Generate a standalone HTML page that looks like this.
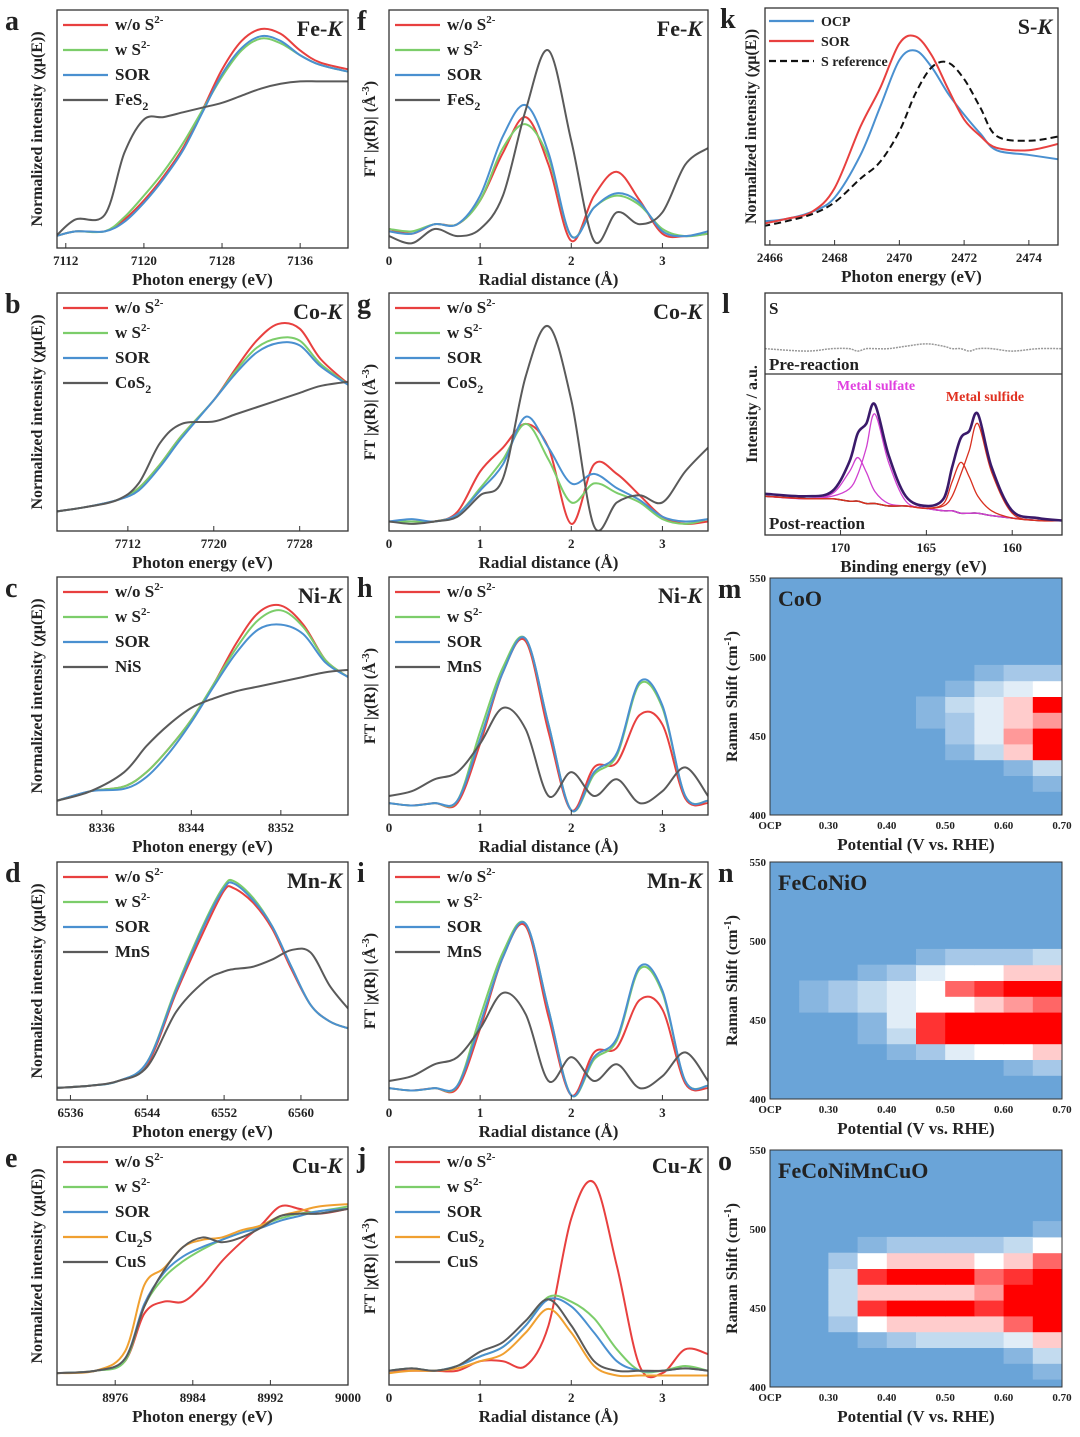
<!DOCTYPE html>
<html><head><meta charset="utf-8">
<style>
html,body{margin:0;padding:0;background:#fff;}
svg{display:block;}
text{font-family:"Liberation Serif",serif;font-weight:bold;}
</style></head>
<body>
<svg id="fig" width="1080" height="1437" viewBox="0 0 1080 1437" xmlns="http://www.w3.org/2000/svg"></svg>
<script>
// ===== Data =====
const aX=[7111,7113,7116,7118,7120,7122,7124,7126,7128,7130,7132,7134,7136,7138,7141];
const aRed=[0.05,0.07,0.07,0.12,0.2,0.3,0.42,0.58,0.75,0.87,0.92,0.9,0.83,0.78,0.75];
const aGreen=[0.05,0.07,0.07,0.13,0.22,0.32,0.44,0.58,0.72,0.83,0.88,0.86,0.81,0.77,0.74];
const aBlue=[0.05,0.07,0.07,0.11,0.19,0.29,0.41,0.57,0.73,0.84,0.89,0.87,0.81,0.77,0.74];
const aGray=[0.05,0.12,0.14,0.4,0.54,0.55,0.57,0.59,0.61,0.64,0.67,0.69,0.7,0.7,0.7];

const bX=[7705,7708,7711,7713,7715,7717,7720,7722,7724,7726,7728,7730,7733];
const bRed=[0.08,0.1,0.13,0.18,0.28,0.4,0.55,0.68,0.8,0.87,0.85,0.72,0.6];
const bGreen=[0.08,0.1,0.13,0.18,0.28,0.4,0.55,0.67,0.77,0.81,0.8,0.7,0.6];
const bBlue=[0.08,0.1,0.13,0.17,0.27,0.39,0.55,0.66,0.75,0.79,0.78,0.69,0.6];
const bGray=[0.08,0.1,0.13,0.2,0.37,0.45,0.46,0.49,0.52,0.55,0.58,0.61,0.63];

const cX=[8332,8335,8338,8340,8342,8344,8346,8348,8350,8352,8354,8356,8358];
const cRed=[0.06,0.1,0.12,0.18,0.28,0.4,0.55,0.72,0.85,0.88,0.8,0.65,0.58];
const cGreen=[0.06,0.1,0.12,0.18,0.28,0.4,0.55,0.7,0.82,0.86,0.79,0.65,0.58];
const cBlue=[0.06,0.1,0.11,0.16,0.26,0.39,0.54,0.68,0.78,0.8,0.76,0.64,0.58];
const cGray=[0.06,0.1,0.18,0.29,0.38,0.45,0.49,0.52,0.54,0.56,0.58,0.6,0.61];

const dX=[6534,6538,6541,6544,6547,6550,6552,6553,6555,6557,6559,6561,6563,6565];
const dRed=[0.05,0.06,0.08,0.15,0.45,0.72,0.88,0.89,0.83,0.72,0.55,0.4,0.33,0.3];
const dGreen=[0.05,0.06,0.08,0.16,0.47,0.75,0.9,0.92,0.85,0.73,0.56,0.4,0.33,0.3];
const dBlue=[0.05,0.06,0.08,0.16,0.46,0.74,0.89,0.91,0.84,0.73,0.56,0.4,0.33,0.3];
const dGray=[0.05,0.06,0.08,0.14,0.37,0.5,0.54,0.55,0.56,0.59,0.63,0.62,0.48,0.38];

const eX=[8970,8974,8977,8979,8981,8983,8985,8987,8989,8991,8993,8995,8997,9000];
const eRed=[0.05,0.06,0.1,0.3,0.35,0.35,0.42,0.52,0.6,0.67,0.75,0.74,0.72,0.74];
const eGreen=[0.05,0.06,0.1,0.33,0.45,0.52,0.57,0.61,0.64,0.67,0.7,0.72,0.73,0.75];
const eBlue=[0.05,0.06,0.11,0.34,0.47,0.54,0.58,0.61,0.64,0.66,0.69,0.71,0.73,0.74];
const eOrange=[0.05,0.06,0.14,0.42,0.49,0.58,0.61,0.62,0.65,0.67,0.71,0.73,0.75,0.76];
const eGray=[0.05,0.06,0.11,0.33,0.48,0.58,0.62,0.6,0.62,0.66,0.71,0.72,0.72,0.74];

const rX=[0,0.25,0.5,0.75,1,1.25,1.5,1.75,2,2.25,2.5,2.75,3,3.25,3.5];
const fRed=[0.08,0.06,0.1,0.1,0.2,0.4,0.55,0.35,0.03,0.22,0.32,0.2,0.06,0.05,0.06];
const fGreen=[0.08,0.07,0.1,0.1,0.2,0.42,0.52,0.38,0.05,0.17,0.22,0.18,0.08,0.05,0.06];
const fBlue=[0.07,0.06,0.1,0.1,0.22,0.47,0.6,0.4,0.05,0.17,0.23,0.19,0.07,0.05,0.07];
const fGray=[0.05,0.02,0.08,0.05,0.08,0.22,0.58,0.83,0.45,0.03,0.15,0.1,0.15,0.35,0.42];

const gRed=[0.04,0.04,0.04,0.08,0.25,0.35,0.45,0.35,0.03,0.28,0.24,0.15,0.06,0.03,0.04];
const gGreen=[0.04,0.04,0.04,0.07,0.18,0.3,0.45,0.3,0.12,0.2,0.16,0.12,0.05,0.03,0.05];
const gBlue=[0.04,0.05,0.04,0.07,0.17,0.28,0.48,0.35,0.2,0.24,0.18,0.13,0.06,0.04,0.05];
const gGray=[0.04,0.03,0.04,0.06,0.15,0.22,0.65,0.86,0.55,0.02,0.12,0.15,0.12,0.25,0.35];

const hRed=[0.05,0.04,0.05,0.05,0.3,0.6,0.73,0.35,0.02,0.2,0.22,0.42,0.38,0.07,0.05];
const hGreen=[0.05,0.04,0.05,0.06,0.35,0.62,0.74,0.38,0.02,0.17,0.25,0.55,0.45,0.08,0.06];
const hBlue=[0.05,0.04,0.05,0.06,0.32,0.6,0.74,0.38,0.02,0.18,0.26,0.56,0.46,0.08,0.06];
const hGray=[0.08,0.1,0.15,0.18,0.3,0.45,0.36,0.08,0.18,0.08,0.15,0.05,0.1,0.2,0.08];

const iRed=hRed, iGreen=hGreen, iBlue=hBlue, iGray=hGray;

const jRed=[0.06,0.06,0.06,0.06,0.1,0.1,0.08,0.25,0.7,0.85,0.5,0.08,0.05,0.15,0.13];
const jGreen=[0.06,0.07,0.06,0.08,0.12,0.16,0.25,0.37,0.35,0.28,0.15,0.06,0.06,0.08,0.06];
const jBlue=[0.06,0.07,0.06,0.08,0.12,0.16,0.25,0.36,0.33,0.22,0.1,0.06,0.06,0.07,0.06];
const jOrange=[0.05,0.06,0.06,0.07,0.1,0.13,0.22,0.32,0.22,0.08,0.04,0.04,0.04,0.04,0.04];
const jGray=[0.06,0.07,0.06,0.08,0.14,0.18,0.27,0.36,0.25,0.1,0.06,0.06,0.06,0.07,0.06];

const kX=[2465.8,2466.5,2467.3,2468,2468.8,2469.4,2470,2470.5,2471,2471.5,2472,2472.5,2473,2474,2475];
const kOCP=[0.1,0.11,0.14,0.2,0.38,0.58,0.78,0.82,0.75,0.64,0.55,0.47,0.4,0.38,0.36];
const kSOR=[0.09,0.11,0.14,0.24,0.5,0.66,0.85,0.88,0.8,0.66,0.53,0.46,0.41,0.4,0.43];
const kRef=[0.08,0.1,0.13,0.18,0.28,0.35,0.48,0.64,0.75,0.77,0.7,0.58,0.46,0.44,0.46];

const lX=[174.4,172,170.5,169.5,169,168.5,168,167.2,166.2,165,164,163.5,163,162.5,162,161.2,160,158.5,157.1];
const lEnv=[0.17,0.16,0.18,0.3,0.42,0.46,0.54,0.33,0.16,0.12,0.15,0.28,0.4,0.43,0.5,0.28,0.1,0.07,0.06];
const lSulfateA=[0.16,0.15,0.17,0.26,0.32,0.26,0.18,0.13,0.12,0.11,0.1,0.1,0.09,0.09,0.09,0.08,0.07,0.06,0.06];
const lSulfateB=[0.16,0.15,0.16,0.19,0.25,0.36,0.5,0.3,0.14,0.11,0.1,0.1,0.09,0.09,0.09,0.08,0.07,0.06,0.06];
const lSulfideA=[0.16,0.15,0.15,0.14,0.14,0.13,0.13,0.12,0.12,0.11,0.13,0.22,0.3,0.24,0.16,0.1,0.07,0.06,0.06];
const lSulfideB=[0.16,0.15,0.15,0.14,0.14,0.13,0.13,0.12,0.12,0.11,0.12,0.16,0.25,0.35,0.46,0.26,0.09,0.06,0.06];
const lBase=[0.16,0.15,0.15,0.14,0.14,0.13,0.13,0.12,0.12,0.11,0.1,0.1,0.09,0.09,0.09,0.08,0.07,0.06,0.06];
const lPre=[0.77,0.76,0.77,0.77,0.76,0.77,0.77,0.77,0.78,0.79,0.78,0.77,0.77,0.76,0.77,0.77,0.76,0.77,0.77];

const hmX=[0.25,0.3,0.35,0.4,0.45,0.5,0.55,0.6,0.65,0.7];
const hmY=[400,410,420,430,440,450,460,470,480,490,500,510,520,530,540,550];
const mData=[
[0,0,0,0,0,0,0,0,0,0],[0,0,0,0,0,0,0,0,0,0],[0,0,0,0,0,0,0,0,0,0.1],[0,0,0,0,0,0,0,0,0.1,0.3],
[0,0,0,0,0,0,0.1,0.3,0.6,1],[0,0,0,0,0,0,0.2,0.4,0.7,1],[0,0,0,0,0,0.1,0.2,0.4,0.6,0.7],
[0,0,0,0,0,0.1,0.3,0.4,0.6,1],[0,0,0,0,0,0,0.1,0.3,0.4,0.5],[0,0,0,0,0,0,0,0.1,0.2,0.2],
[0,0,0,0,0,0,0,0,0,0],[0,0,0,0,0,0,0,0,0,0],[0,0,0,0,0,0,0,0,0,0],[0,0,0,0,0,0,0,0,0,0],[0,0,0,0,0,0,0,0,0,0],[0,0,0,0,0,0,0,0,0,0]];
const nData=[
[0,0,0,0,0,0,0,0,0,0],[0,0,0,0,0,0,0,0,0,0],[0,0,0,0,0,0,0,0,0.1,0.2],[0,0,0,0,0.1,0.2,0.4,0.5,0.5,0.6],
[0,0,0,0.1,0.3,0.9,1,1,1,1],[0,0,0,0.1,0.4,0.9,1,1,1,1],[0,0.1,0.2,0.3,0.4,0.5,0.5,0.6,0.7,0.8],
[0,0.1,0.2,0.3,0.4,0.5,0.8,0.9,1,1],[0,0,0,0.1,0.2,0.4,0.5,0.5,0.6,0.6],[0,0,0,0,0,0.1,0.2,0.2,0.2,0.3],
[0,0,0,0,0,0,0,0,0,0],[0,0,0,0,0,0,0,0,0,0],[0,0,0,0,0,0,0,0,0,0],[0,0,0,0,0,0,0,0,0,0],[0,0,0,0,0,0,0,0,0,0],[0,0,0,0,0,0,0,0,0,0]];
const oData=[
[0,0,0,0,0,0,0,0,0,0],[0,0,0,0,0,0,0,0,0,0.1],[0,0,0,0,0,0,0,0,0.1,0.3],[0,0,0,0.1,0.2,0.3,0.3,0.3,0.4,0.6],
[0,0,0.2,0.5,0.6,0.6,0.6,0.6,0.8,1],[0,0,0.3,0.9,1,1,1,0.9,1,1],[0,0,0.3,0.6,0.6,0.6,0.6,0.7,1,1],
[0,0,0.3,0.9,1,1,1,0.8,0.9,1],[0,0,0.2,0.5,0.6,0.6,0.6,0.5,0.6,0.8],[0,0,0,0.1,0.2,0.2,0.2,0.2,0.3,0.5],
[0,0,0,0,0,0,0,0,0,0.1],[0,0,0,0,0,0,0,0,0,0],[0,0,0,0,0,0,0,0,0,0],[0,0,0,0,0,0,0,0,0,0],[0,0,0,0,0,0,0,0,0,0],[0,0,0,0,0,0,0,0,0,0]];

// ===== Drawing =====
const NS="http://www.w3.org/2000/svg";
const svg=document.getElementById('fig');
function mk(tag,attrs,parent){const e=document.createElementNS(NS,tag);for(const k in attrs)e.setAttribute(k,attrs[k]);(parent||svg).appendChild(e);return e;}
function txt(s,x,y,size,parent,opts){opts=opts||{};const t=mk('text',{x:x,y:y,'font-size':size,fill:opts.fill||'#222','text-anchor':opts.anchor||'start'},parent);if(opts.rot)t.setAttribute('transform','rotate(-90 '+x+' '+y+')');t.innerHTML=s;return t;}
const RED='#e8403f',GREEN='#7ccd6a',BLUE='#4a90d0',GRAY='#5a5a5a',ORANGE='#f0a030';
function smooth(pts){let d='M'+pts[0][0]+','+pts[0][1];for(let i=0;i<pts.length-1;i++){const p0=pts[i-1]||pts[i],p1=pts[i],p2=pts[i+1],p3=pts[i+2]||p2;
d+=' C'+(p1[0]+(p2[0]-p0[0])/6)+','+(p1[1]+(p2[1]-p0[1])/6)+' '+(p2[0]-(p3[0]-p1[0])/6)+','+(p2[1]-(p3[1]-p1[1])/6)+' '+p2[0]+','+p2[1];}return d;}

function panel(c){
  const g=mk('g',{});
  
  
  const sx=v=>c.x0+(v-c.xmin)/(c.xmax-c.xmin)*c.w;
  const sy=v=>c.y0+c.h-v*c.h;
  const clipId='clip-'+c.name;
  const cp=mk('clipPath',{id:clipId},g);mk('rect',{x:c.x0,y:c.y0,width:c.w,height:c.h},cp);
  const lg=mk('g',{'clip-path':'url(#'+clipId+')'},g);
  c.series.forEach(s=>{
    const p=mk('path',{d:smooth(s.xs.map((v,i)=>[sx(v),sy(s.ys[i])])),fill:'none',stroke:s.color,'stroke-width':s.sw||2,'stroke-dasharray':s.dash||'none'},lg);
    
    
  });
  const fr=mk('rect',{x:c.x0,y:c.y0,width:c.w,height:c.h,fill:'none',stroke:'#333','stroke-width':1.3},g);
  
  
  c.xticks.forEach(t=>{const x=sx(t);mk('line',{x1:x,y1:c.y0+c.h,x2:x,y2:c.y0+c.h-5,stroke:'#333'},g);
    const tl=txt(t,x,c.y0+c.h+17,13,g,{anchor:'middle'});
    });
  const xl=txt(c.xlabel,c.x0+c.w/2,c.y0+c.h+37,17,g,{anchor:'middle'});
  
  const yl=txt(c.ylabel,c.ylx,c.y0+c.h/2,16,g,{anchor:'middle',rot:1});
  
  const lt=txt(c.letter,c.lx,c.y0+20,28,g);
  
  if(c.title){const tt=txt(c.title,c.x0+c.w-6,c.y0+26,22,g,{anchor:'end'});}
  if(c.legend){c.series.forEach((s,i)=>{const y=c.y0+(c.legStep?18:20)+i*(c.legStep||25);const lx=c.x0+(c.legX||6);
    const le=mk('g',{},g);
    mk('line',{x1:lx,y1:y-5,x2:lx+45,y2:y-5,stroke:s.color,'stroke-width':2.2,'stroke-dasharray':s.dash||'none'},le);
    txt(s.label,lx+52,y,c.legSize||17,le);});}
  return {g,sx,sy};
}
const c1={x0:57,w:291,h:238,ylx:42,lx:5,ylabel:'Normalized intensity (χμ(E))',xlabel:'Photon energy (eV)'};
const c2={x0:389,w:319,h:238,ylx:375,lx:357,ylabel:'FT |χ(R)| (Å<tspan font-size="11" dy="-6">-3</tspan><tspan dy="6">)</tspan>',xlabel:'Radial distance (Å)',xmin:0,xmax:3.5,xticks:[0,1,2,3]};
const S2='S<tspan font-size="11" dy="-7">2-</tspan>';
function sub(s){return '<tspan font-size="12" dy="5">'+s+'</tspan>';}
function four(xs,r,g,b,k,kl,extra){const a=[{xs,ys:r,color:RED,label:'w/o '+S2},{xs,ys:g,color:GREEN,label:'w '+S2},{xs,ys:b,color:BLUE,label:'SOR'}];
 if(extra)a.push(extra);a.push({xs,ys:k,color:GRAY,label:kl});return a;}

const rows=[10,293,577,862,1147];
panel(Object.assign({},c1,{name:'panel-a',y0:rows[0],xmin:7111.1,xmax:7140.9,xticks:[7112,7120,7128,7136],letter:'a',title:'Fe-<tspan font-style="italic">K</tspan>',legend:1,series:four(aX,aRed,aGreen,aBlue,aGray,'FeS'+sub('2'))}));
panel(Object.assign({},c1,{name:'panel-b',y0:rows[1],xmin:7705.4,xmax:7732.5,xticks:[7712,7720,7728],letter:'b',title:'Co-<tspan font-style="italic">K</tspan>',legend:1,series:four(bX,bRed,bGreen,bBlue,bGray,'CoS'+sub('2'))}));
panel(Object.assign({},c1,{name:'panel-c',y0:rows[2],xmin:8332,xmax:8358,xticks:[8336,8344,8352],letter:'c',title:'Ni-<tspan font-style="italic">K</tspan>',legend:1,series:four(cX,cRed,cGreen,cBlue,cGray,'NiS')}));
panel(Object.assign({},c1,{name:'panel-d',y0:rows[3],xmin:6534.6,xmax:6564.9,xticks:[6536,6544,6552,6560],letter:'d',title:'Mn-<tspan font-style="italic">K</tspan>',legend:1,series:four(dX,dRed,dGreen,dBlue,dGray,'MnS')}));
panel(Object.assign({},c1,{name:'panel-e',y0:rows[4],xmin:8970,xmax:9000,xticks:[8976,8984,8992,9000],letter:'e',title:'Cu-<tspan font-style="italic">K</tspan>',legend:1,series:four(eX,eRed,eGreen,eBlue,eGray,'CuS',{xs:eX,ys:eOrange,color:ORANGE,label:'Cu'+sub('2')+'<tspan dy="-5">S</tspan>'})}));

panel(Object.assign({},c2,{name:'panel-f',y0:rows[0],letter:'f',title:'Fe-<tspan font-style="italic">K</tspan>',legend:1,series:four(rX,fRed,fGreen,fBlue,fGray,'FeS'+sub('2'))}));
panel(Object.assign({},c2,{name:'panel-g',y0:rows[1],letter:'g',title:'Co-<tspan font-style="italic">K</tspan>',legend:1,series:four(rX,gRed,gGreen,gBlue,gGray,'CoS'+sub('2'))}));
panel(Object.assign({},c2,{name:'panel-h',y0:rows[2],letter:'h',title:'Ni-<tspan font-style="italic">K</tspan>',legend:1,series:four(rX,hRed,hGreen,hBlue,hGray,'MnS')}));
panel(Object.assign({},c2,{name:'panel-i',y0:rows[3],letter:'i',title:'Mn-<tspan font-style="italic">K</tspan>',legend:1,series:four(rX,iRed,iGreen,iBlue,iGray,'MnS')}));
panel(Object.assign({},c2,{name:'panel-j',y0:rows[4],letter:'j',title:'Cu-<tspan font-style="italic">K</tspan>',legend:1,series:four(rX,jRed,jGreen,jBlue,jGray,'CuS',{xs:rX,ys:jOrange,color:ORANGE,label:'CuS'+sub('2')})}));

panel({name:'panel-k',x0:765,y0:8,w:293,h:237,ylx:756,lx:720,xmin:2465.85,xmax:2474.9,xticks:[2466,2468,2470,2472,2474],letter:'k',title:'S-<tspan font-style="italic">K</tspan>',
 ylabel:'Normalized intensity (χμ(E))',xlabel:'Photon energy (eV)',legend:1,legStep:20,legSize:14,legX:4,
 series:[{xs:kX,ys:kOCP,color:BLUE,label:'OCP'},{xs:kX,ys:kSOR,color:RED,label:'SOR'},{xs:kX,ys:kRef,color:'#111',dash:'7,4',label:'S reference'}]});

// panel l
(function(){
 const P=panel({name:'panel-l',x0:765,y0:293,w:297,h:242,ylx:757,lx:722,xmin:174.4,xmax:157.1,xticks:[170,165,160],letter:'l',
  ylabel:'Intensity / a.u.',xlabel:'Binding energy (eV)',
  series:[{xs:lX,ys:lPre,color:'#999',sw:1.5,dash:'2,1',label:'pre'},{xs:lX,ys:lBase,color:'#111',sw:1.5,label:'baseline'},
  {xs:lX,ys:lSulfateA,color:'#d040d0',sw:1.3,label:'sulfate-a'},{xs:lX,ys:lSulfateB,color:'#d040d0',sw:1.3,label:'sulfate-b'},
  {xs:lX,ys:lSulfideA,color:'#d83020',sw:1.3,label:'sulfide-a'},{xs:lX,ys:lSulfideB,color:'#d83020',sw:1.3,label:'sulfide-b'},
  {xs:lX,ys:lEnv,color:'#3a1a6a',sw:2.6,label:'envelope'}]});
 mk('line',{x1:765,y1:374,x2:1062,y2:374,stroke:'#333','stroke-width':1.3},P.g);
 txt('S',769,314,17,P.g);txt('Pre-reaction',769,370,17,P.g);txt('Post-reaction',769,529,17,P.g);
 txt('Metal sulfate',876,390,14,P.g,{anchor:'middle',fill:'#e040e0'});txt('Metal sulfide',985,401,14,P.g,{anchor:'middle',fill:'#e03020'});
})();

// heatmaps
function heat(name,y0,data,letter,title){
 const x0=770,w=292,h=237;
 const g=mk('g',{});
 const sx=v=>x0+(v-0.2)/(0.7-0.2)*w, sy=v=>y0+h-(v-400)/150*h;
 const cid='clip-'+name;const cp=mk('clipPath',{id:cid},g);mk('rect',{x:x0,y:y0,width:w,height:h},cp);
 mk('rect',{x:x0,y:y0,width:w,height:h,fill:'#6aa4d8'},g);
 const cg=mk('g',{'clip-path':'url(#'+cid+')'},g);
 const cw=w*0.05/0.5, ch=h*10/150;
 function col(v){if(v<=0)return null;if(v<0.5){const t=v/0.5;return 'rgb('+Math.round(106+149*t)+','+Math.round(164+91*t)+','+Math.round(216+39*t)+')';}
  const t=(v-0.5)/0.5;return 'rgb(255,'+Math.round(255*(1-t))+','+Math.round(255*(1-t))+')';}
 data.forEach((row,ri)=>row.forEach((v,ci)=>{const cc=col(v);if(!cc)return;
  const r=mk('rect',{x:sx(hmX[ci])-cw,y:sy(hmY[ri])-ch/2,width:cw+0.5,height:ch+0.5,fill:cc},cg);
  }));
 mk('rect',{x:x0,y:y0,width:w,height:h,fill:'none',stroke:'#333'},g);
 [['OCP',0.2],['0.30',0.3],['0.40',0.4],['0.50',0.5],['0.60',0.6],['0.70',0.7]].forEach(t=>txt(t[0],sx(t[1]),y0+h+14,11,g,{anchor:'middle'}));
 [400,450,500,550].forEach(v=>txt(v,x0-4,sy(v)+4,11,g,{anchor:'end'}));
 txt('Potential (V vs. RHE)',x0+w/2,y0+h+35,17,g,{anchor:'middle'});
 txt('Raman Shift (cm<tspan font-size="11" dy="-6">-1</tspan><tspan dy="6">)</tspan>',737,y0+h/2,16,g,{anchor:'middle',rot:1});
 txt(letter,718,y0+20,28,g);txt(title,778,y0+28,22,g);
}
heat('panel-m',578,mData,'m','CoO');
heat('panel-n',862,nData,'n','FeCoNiO');
heat('panel-o',1150,oData,'o','FeCoNiMnCuO');
</script>
</body></html>
